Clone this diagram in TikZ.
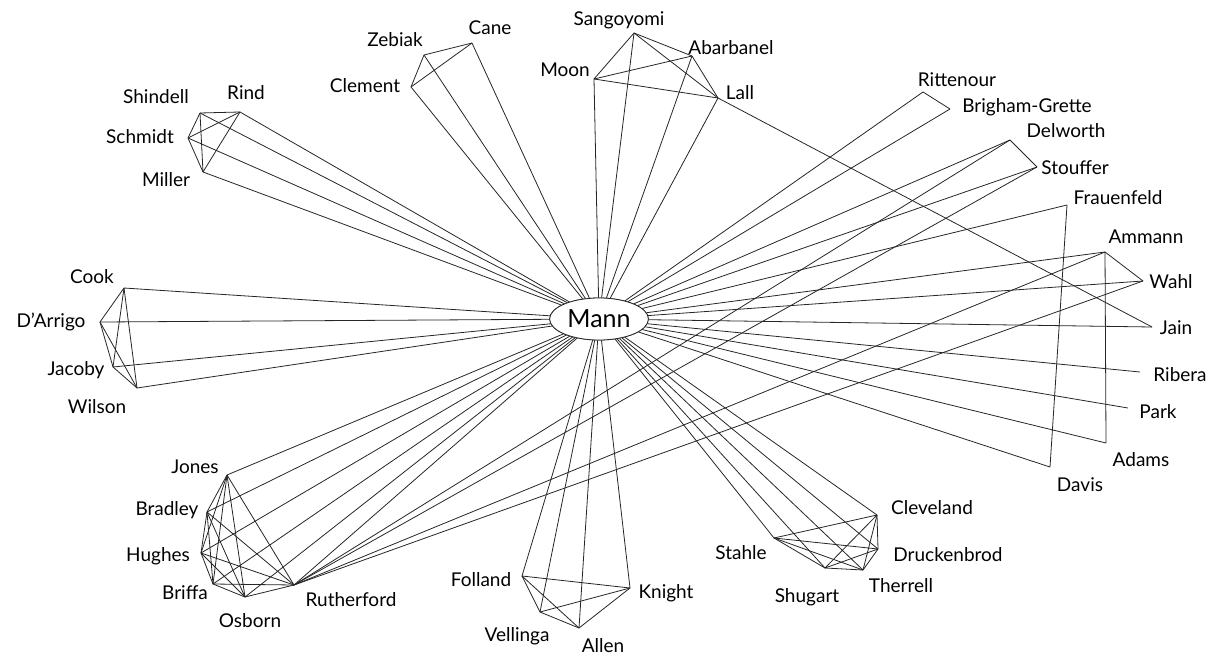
\documentclass[tikz,border=0pt]{standalone}
\usepackage{fontspec}
\setmainfont{Lato}
\usetikzlibrary{shapes}
\tikzset{
    x=1pt,
    y=-1pt,
    tie/.style={
        draw=black!85,
        line width=0.8pt,
    },
    author/.style={
        font=\fontsize{19}{22}\selectfont,
        inner sep=0pt,
    },
    hub/.style={
        draw=black!85,
        line width=0.8pt,
        ellipse,
        fill=white,
        minimum width=98pt,
        minimum height=42pt,
        font=\fontsize{25}{28}\selectfont,
    },
}
% all pairs of a group of co-authors
\newcommand{\coauthors}[1]{%
    \foreach \a [count=\i] in {#1} {
        \foreach \b [count=\j] in {#1} {
            \ifnum\j>\i \draw[tie] (\a) -- (\b); \fi
        }
    }
}

\begin{document}
\begin{tikzpicture}
    \useasboundingbox (0,0) rectangle (1217,655);

    \coordinate (shindell) at (200,113);
    \coordinate (rind) at (240,112);
    \coordinate (schmidt) at (188,138);
    \coordinate (miller) at (203,172);
    \coordinate (zebiak) at (424,55);
    \coordinate (cane) at (472,43);
    \coordinate (clement) at (411,87);
    \coordinate (sangoyomi) at (634,33);
    \coordinate (abarbanel) at (692,56);
    \coordinate (moon) at (594,79);
    \coordinate (lall) at (718,98);
    \coordinate (cook) at (124,288);
    \coordinate (darrigo) at (100,322);
    \coordinate (jacoby) at (113,367);
    \coordinate (wilson) at (137,388);
    \coordinate (jones) at (227,475);
    \coordinate (bradley) at (207,512);
    \coordinate (hughes) at (201,553);
    \coordinate (briffa) at (213,584);
    \coordinate (osborn) at (245,597);
    \coordinate (rutherford) at (294,585);
    \coordinate (folland) at (522,576);
    \coordinate (knight) at (630,588);
    \coordinate (vellinga) at (540,612);
    \coordinate (allen) at (579,628);
    \coordinate (cleveland) at (877,515);
    \coordinate (stahle) at (774,538);
    \coordinate (druckenbrod) at (878,549);
    \coordinate (shugart) at (825,568);
    \coordinate (therrell) at (863,570);
    \coordinate (rittenour) at (923,92);
    \coordinate (brigham) at (950,109);
    \coordinate (delworth) at (1010,140);
    \coordinate (stouffer) at (1037,167);
    \coordinate (frauenfeld) at (1067,205);
    \coordinate (ammann) at (1105,252);
    \coordinate (wahl) at (1143,281);
    \coordinate (jain) at (1152,327);
    \coordinate (ribera) at (1140,372);
    \coordinate (park) at (1128,408);
    \coordinate (adams) at (1106,443);
    \coordinate (davis) at (1050,467);

    \node[author] (shindellL) at (156,97) {Shindell};
    \node[author] (rindL) at (246,93) {Rind};
    \node[author] (schmidtL) at (140,137) {Schmidt};
    \node[author] (millerL) at (166,180) {Miller};
    \node[author] (zebiakL) at (395,40) {Zebiak};
    \node[author] (caneL) at (490,28) {Cane};
    \node[author] (clementL) at (365,86) {Clement};
    \node[author] (sangoyomiL) at (619,20) {Sangoyomi};
    \node[author] (abarbanelL) at (731,48) {Abarbanel};
    \node[author] (moonL) at (565,70) {Moon};
    \node[author] (lallL) at (740,93) {Lall};
    \node[author] (cookL) at (92,277) {Cook};
    \node[author] (darrigoL) at (51,322) {D'Arrigo};
    \node[author] (jacobyL) at (76,370) {Jacoby};
    \node[author] (wilsonL) at (97,407) {Wilson};
    \node[author] (jonesL) at (195,467) {Jones};
    \node[author] (bradleyL) at (167,510) {Bradley};
    \node[author] (hughesL) at (158,556) {Hughes};
    \node[author] (briffaL) at (185,593) {Briffa};
    \node[author] (osbornL) at (250,621) {Osborn};
    \node[author] (rutherfordL) at (351,600) {Rutherford};
    \node[author] (follandL) at (481,580) {Folland};
    \node[author] (knightL) at (666,593) {Knight};
    \node[author] (vellingaL) at (517,636) {Vellinga};
    \node[author] (allenL) at (603,646) {Allen};
    \node[author] (clevelandL) at (932,508) {Cleveland};
    \node[author] (stahleL) at (741,553) {Stahle};
    \node[author] (druckenbrodL) at (948,555) {Druckenbrod};
    \node[author] (therrellL) at (901,586) {Therrell};
    \node[author] (shugartL) at (807,597) {Shugart};
    \node[author] (rittenourL) at (957,80) {Rittenour};
    \node[author] (brighamL) at (1027,107) {Brigham-Grette};
    \node[author] (delworthL) at (1066,131) {Delworth};
    \node[author] (stoufferL) at (1075,168) {Stouffer};
    \node[author] (frauenfeldL) at (1118,198) {Frauenfeld};
    \node[author] (ammannL) at (1146,237) {Ammann};
    \node[author] (wahlL) at (1171,282) {Wahl};
    \node[author] (jainL) at (1176,328) {Jain};
    \node[author] (riberaL) at (1180,375) {Ribera};
    \node[author] (parkL) at (1158,412) {Park};
    \node[author] (adamsL) at (1141,460) {Adams};
    \node[author] (davisL) at (1080,485) {Davis};

    \node[hub] (mann) at (599,319) {Mann};

    % everyone wrote with Mann
    \foreach \v in {shindell,rind,schmidt,miller,zebiak,cane,clement,
        sangoyomi,abarbanel,moon,lall,cook,darrigo,jacoby,wilson,
        jones,bradley,hughes,briffa,osborn,rutherford,
        folland,knight,vellinga,allen,
        cleveland,stahle,druckenbrod,shugart,therrell,
        rittenour,brigham,delworth,stouffer,frauenfeld,ammann,wahl,
        jain,ribera,park,adams,davis}
        \draw[tie] (mann) -- (\v);

    \coauthors{shindell,rind,schmidt,miller}
    \coauthors{zebiak,cane,clement}
    \coauthors{sangoyomi,abarbanel,moon,lall}
    \coauthors{cook,darrigo,jacoby,wilson}
    \coauthors{jones,bradley,hughes,briffa,osborn,rutherford}
    \coauthors{folland,knight,vellinga,allen}
    \coauthors{cleveland,stahle,druckenbrod,shugart,therrell}

    \draw[tie] (rittenour) -- (brigham);
    \draw[tie] (delworth) -- (stouffer);
    \draw[tie] (frauenfeld) -- (davis);
    \draw[tie] (ammann) -- (wahl);
    \draw[tie] (ammann) -- (adams);
    \draw[tie] (lall) -- (jain);
    \foreach \v in {delworth,stouffer,ammann,wahl}
        \draw[tie] (rutherford) -- (\v);

    \node[hub] at (mann) {Mann};
\end{tikzpicture}
\end{document}
